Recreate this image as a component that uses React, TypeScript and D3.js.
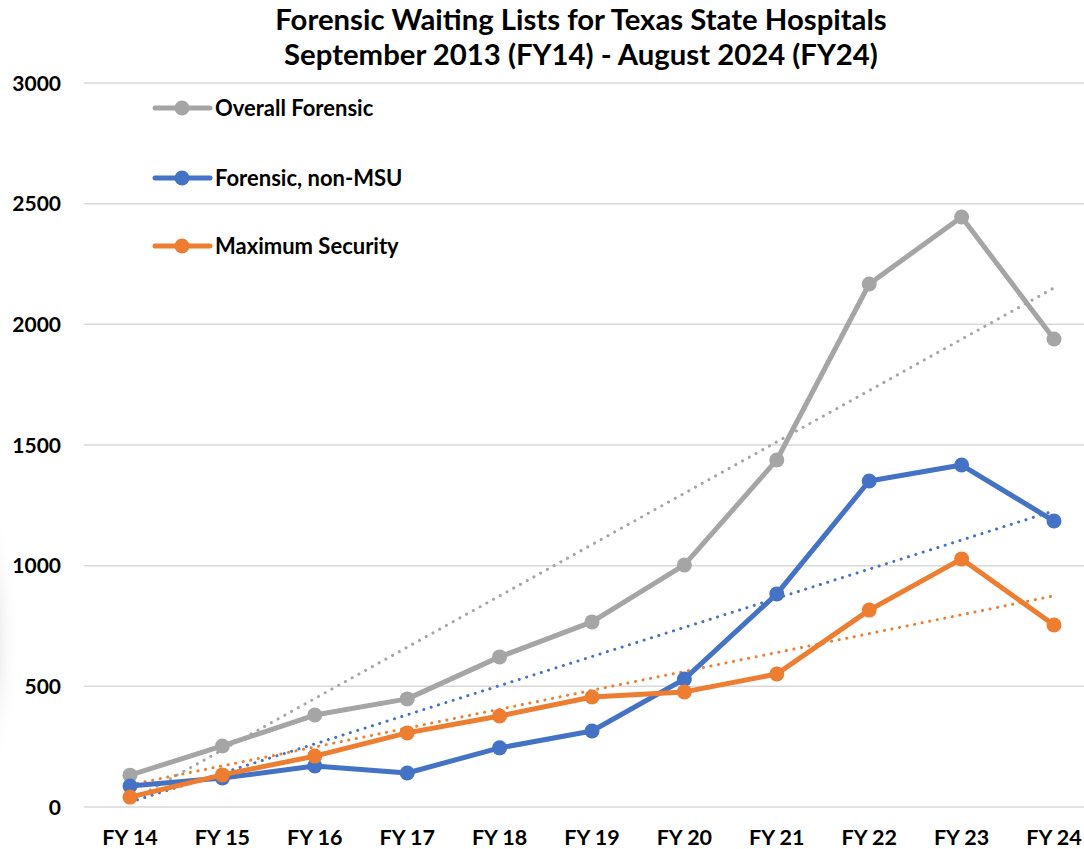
import React from "react";
import * as d3 from "d3";

const categories = ["FY 14", "FY 15", "FY 16", "FY 17", "FY 18", "FY 19", "FY 20", "FY 21", "FY 22", "FY 23", "FY 24"];
const overallForensic = [132, 253, 381, 448, 622, 767, 1003, 1438, 2167, 2445, 1939];
const forensicNonMsu = [87, 120, 170, 141, 245, 315, 530, 883, 1351, 1417, 1185];
const maximumSecurity = [41, 133, 211, 307, 377, 456, 477, 551, 816, 1028, 754];
// trendline values at FY 14 and FY 24
const overallTrend = [24, 2151];
const nonMsuTrend = [20, 1227];
const maxSecTrend = [92, 875];
const yTicks = [0, 500, 1000, 1500, 2000, 2500, 3000];

const series = [
  { name: "Overall Forensic", values: overallForensic, trend: overallTrend, color: "#A5A5A5" },
  { name: "Forensic, non-MSU", values: forensicNonMsu, trend: nonMsuTrend, color: "#4472C4" },
  { name: "Maximum Security", values: maximumSecurity, trend: maxSecTrend, color: "#ED7D31" },
];

const font = "Lato, 'Open Sans', sans-serif";

const App = () => {
  const width = 1084;
  const height = 849;

  const x = d3.scalePoint<string>().domain(categories).range([130, 1054]);
  const y = d3.scaleLinear().domain([0, 3000]).range([807, 83]);

  const line = d3
    .line<number>()
    .x((d, i) => x(categories[i]) as number)
    .y((d) => y(d));

  const trendX = [x(categories[0]) as number, x(categories[categories.length - 1]) as number];

  return (
    <svg
      width={width}
      height={height}
      style={{ position: "absolute", left: 0, top: 0, background: "#fff" }}
      fontFamily={font}
    >
      <defs>
        <radialGradient id="shade" cx="0.5" cy="0.5" r="0.5">
          <stop offset="0.55" stopColor="#c8c8c8" stopOpacity={0.5} />
          <stop offset="1" stopColor="#ffffff" stopOpacity={0} />
        </radialGradient>
      </defs>
      <ellipse cx={-40} cy={640} rx={60} ry={170} fill="url(#shade)" />

      <text x={581} y={30} textAnchor="middle" fontSize={29.3} fontWeight={700} fill="#000">
        Forensic Waiting Lists for Texas State Hospitals
      </text>
      <text x={581} y={65} textAnchor="middle" fontSize={29.3} fontWeight={700} fill="#000">
        September 2013 (FY14) - August 2024 (FY24)
      </text>

      {yTicks.map((t) => (
        <g key={t}>
          <line x1={84} x2={1084} y1={y(t)} y2={y(t)} stroke="#D9D9D9" strokeWidth={1.5} />
          <text x={61} y={y(t) + 7.5} textAnchor="end" fontSize={21} fontWeight={700} fill="#000">
            {t}
          </text>
        </g>
      ))}

      {categories.map((c) => (
        <text key={c} x={x(c)} y={845} textAnchor="middle" fontSize={21.5} fontWeight={700} fill="#000">
          {c}
        </text>
      ))}

      {series.map((s) => (
        <line
          key={s.name + "-trend"}
          x1={trendX[0]}
          x2={trendX[1]}
          y1={y(s.trend[0])}
          y2={y(s.trend[1])}
          stroke={s.color}
          strokeWidth={3}
          strokeDasharray="0.1 7.6"
          strokeLinecap="round"
        />
      ))}

      {series.map((s) => (
        <g key={s.name}>
          <path d={line(s.values) || ""} fill="none" stroke={s.color} strokeWidth={5} strokeLinejoin="round" />
          {s.values.map((v, i) => (
            <circle key={i} cx={x(categories[i])} cy={y(v)} r={7.5} fill={s.color} />
          ))}
        </g>
      ))}

      {series.map((s, i) => {
        const ly = [108, 178, 246][i];
        return (
          <g key={s.name + "-legend"}>
            <line x1={155} x2={210} y1={ly} y2={ly} stroke={s.color} strokeWidth={5} strokeLinecap="round" />
            <circle cx={182} cy={ly} r={7.5} fill={s.color} />
            <text x={215} y={ly + 8} fontSize={22} fontWeight={700} fill="#000">
              {s.name}
            </text>
          </g>
        );
      })}
    </svg>
  );
};

export default App;
